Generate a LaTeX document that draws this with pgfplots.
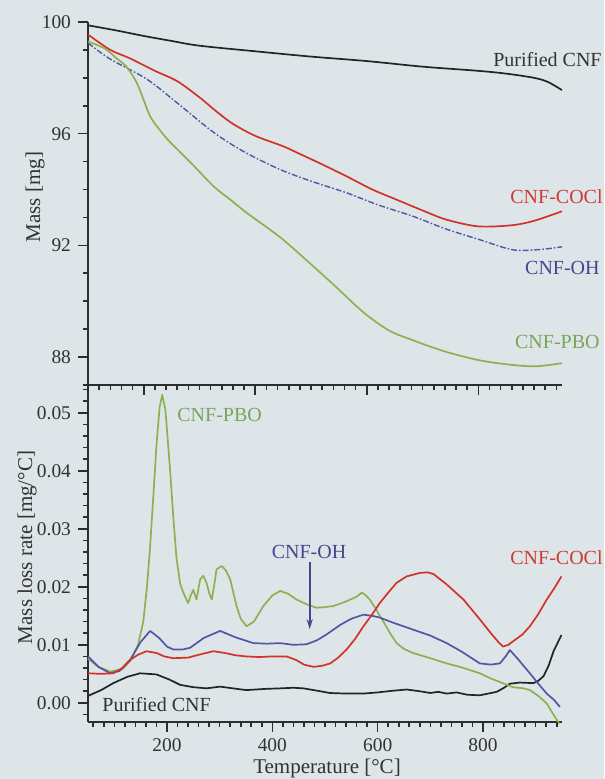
\documentclass[border=0pt]{standalone}
\usepackage{fontspec}
\setmainfont{Liberation Serif}
\usepackage{pgfplots}
\pgfplotsset{compat=1.18}
\usetikzlibrary{arrows.meta}
\definecolor{bg}{RGB}{221,229,233}
\definecolor{axc}{RGB}{45,45,45}
\definecolor{txt}{RGB}{50,50,50}
\definecolor{cblack}{RGB}{35,35,40}
\definecolor{cred}{RGB}{210,50,40}
\definecolor{cblue}{RGB}{85,85,165}
\definecolor{cgreen}{RGB}{140,178,80}
\definecolor{lred}{RGB}{205,60,50}
\definecolor{lblue}{RGB}{70,70,140}
\definecolor{lgreen}{RGB}{120,165,90}

\pgfplotsset{panel/.style={
  scale only axis, width=237pt,
  axis lines*=left,
  axis line style={-, line width=0.9pt, draw=axc},
  tick align=outside,
  major tick length=5pt, minor tick length=2.5pt,
  tick style={line width=0.8pt, draw=axc},
  /pgf/number format/assume math mode=true,
  tick label style={font=\fontsize{9.7}{11}\selectfont, color=txt},
  clip=false,
  every axis plot/.append style={line width=0.85pt, line join=round},
}}
\tikzset{tk/.style={draw=axc, line width=0.8pt}}

\begin{document}
\begin{tikzpicture}
\fill[bg] (0pt,0pt) rectangle (302pt,389.5pt);

% ---------------- top panel: mass ----------------
\begin{axis}[panel, at={(44pt,197pt)}, anchor=south west, height=181.5pt,
  xmin=100, xmax=950, ymin=87, ymax=100,
  xtick={200,400,600,800}, xticklabels={}, minor xtick={120,140,...,940},
  ytick={88,92,96,100}, minor ytick={87,89,90,91,93,94,95,97,98,99}]
\addplot[cblack, smooth] coordinates {
(100,99.88) (150,99.7) (200,99.5) (250,99.32) (300,99.15) (400,98.95) (500,98.76)
(600,98.6) (700,98.4) (800,98.25) (850,98.15) (900,98.0) (925,97.85) (950,97.56)};
\addplot[cred, smooth] coordinates {
(100,99.55) (140,99.0) (175,98.7) (220,98.25) (260,97.88) (300,97.3) (330,96.8)
(360,96.35) (400,95.92) (450,95.55) (475,95.32) (520,94.9) (563,94.48) (610,94.0)
(653,93.64) (700,93.25) (743,92.92) (800,92.68) (860,92.72) (900,92.88) (950,93.22)};
\addplot[cblue, smooth, dash pattern=on 3pt off 1pt on 0.8pt off 1pt, line width=0.7pt] coordinates {
(100,99.25) (139,98.68) (205,97.96) (260,97.1) (325,96.05) (380,95.35) (444,94.72)
(500,94.3) (564,93.88) (620,93.45) (683,93.04) (740,92.6) (803,92.2) (862,91.84)
(910,91.85) (950,91.95)};
\addplot[cgreen, smooth] coordinates {
(100,99.3) (130,99.05) (151,98.7) (169,98.4) (187,97.84) (200,97.2) (212,96.6)
(230,96.1) (247,95.7) (280,95.05) (325,94.12) (355,93.64) (385,93.16) (444,92.3)
(490,91.5) (540,90.6) (594,89.6) (640,88.95) (683,88.6) (740,88.2) (803,87.88)
(860,87.72) (904,87.67) (950,87.78)};
% tick marks
\pgfplotsinvokeforeach{120,140,...,940}{\draw[tk] (axis cs:#1,87) -- ++(0pt,-2.5pt);}
\pgfplotsinvokeforeach{200,400,600,800}{\draw[tk] (axis cs:#1,87) -- ++(0pt,-5pt);}
\pgfplotsinvokeforeach{87,89,90,91,93,94,95,97,98,99}{\draw[tk] (axis cs:100,#1) -- ++(-2.5pt,0pt);}
\pgfplotsinvokeforeach{88,92,96,100}{\draw[tk] (axis cs:100,#1) -- ++(-5pt,0pt);}
\end{axis}

% ---------------- bottom panel: mass loss rate ----------------
\begin{axis}[panel, at={(44pt,28.5pt)}, anchor=south west, height=168.5pt,
  xmin=50, xmax=950, ymin=-0.0033, ymax=0.0548,
  xtick={200,400,600,800}, minor xtick={60,80,...,940},
  ytick={0,0.01,0.02,0.03,0.04,0.05},
  minor ytick={-0.002,0.002,0.004,0.006,0.008,0.012,0.014,0.016,0.018,0.022,0.024,0.026,0.028,0.032,0.034,0.036,0.038,0.042,0.044,0.046,0.048,0.052,0.054},
  scaled y ticks=false,
  yticklabel style={/pgf/number format/.cd, fixed, fixed zerofill, precision=2}]
\addplot[cblack] coordinates {
(50,0.0012) (75,0.0022) (98,0.0034) (125,0.0045) (149,0.0051) (180,0.0049) (205,0.0040)
(225,0.0031) (250,0.0027) (275,0.0025) (301,0.0028) (325,0.0025) (351,0.0022) (385,0.0024)
(415,0.0025) (440,0.0026) (459,0.0025) (485,0.0021) (509,0.0017) (540,0.0016) (573,0.0016)
(600,0.0018) (630,0.0021) (655,0.0023) (680,0.0020) (700,0.0017) (715,0.0019) (731,0.0016)
(750,0.0018) (770,0.0014) (794,0.0013) (810,0.0016) (826,0.0019) (840,0.0026) (851,0.0033)
(870,0.0035) (896,0.0034) (905,0.0038) (915,0.0046) (925,0.0065) (934,0.0089) (949,0.0117)};
\addplot[cgreen] coordinates {
(50,0.0076) (70,0.0062) (92,0.0054) (115,0.0058) (130,0.0072) (145,0.0100) (155,0.0140)
(162,0.0200) (168,0.0270) (175,0.0370) (180,0.0444) (186,0.0510) (191,0.0531) (197,0.0505)
(206,0.0400) (212,0.0320) (218,0.0250) (225,0.0205) (231,0.0190) (240,0.0172) (245,0.0185)
(250,0.0195) (256,0.0178) (263,0.0213) (269,0.0219) (275,0.0207) (280,0.0190) (285,0.0178)
(290,0.0205) (294,0.0230) (304,0.0236) (312,0.0228) (320,0.0213) (326,0.0190) (332,0.0167)
(340,0.0145) (351,0.0132) (365,0.0140) (383,0.0167) (400,0.0185) (415,0.0193) (430,0.0188)
(446,0.0178) (465,0.0170) (484,0.0164) (500,0.0165) (516,0.0167) (532,0.0172) (548,0.0178)
(560,0.0183) (570,0.0190) (578,0.0185) (585,0.0178) (596,0.0163) (604,0.0150) (611,0.0140)
(625,0.0118) (636,0.0103) (650,0.0093) (667,0.0086) (700,0.0077) (731,0.0068) (760,0.0061)
(794,0.0051) (815,0.0042) (832,0.0036) (857,0.0027) (877,0.0025) (889,0.0022) (905,0.0012)
(921,-0.0001) (935,-0.0022) (945,-0.0036)};
\addplot[cblue] coordinates {
(50,0.0080) (70,0.0062) (92,0.0051) (110,0.0055) (130,0.0074) (150,0.0105) (168,0.0124)
(185,0.0112) (200,0.0097) (212,0.0092) (230,0.0092) (244,0.0095) (270,0.0112) (301,0.0124)
(330,0.0113) (364,0.0103) (390,0.0102) (415,0.0103) (440,0.0100) (465,0.0101) (485,0.0108)
(503,0.0118) (530,0.0135) (550,0.0145) (573,0.0152) (590,0.0150) (604,0.0147) (630,0.0138)
(668,0.0126) (700,0.0116) (731,0.0103) (760,0.0088) (794,0.0068) (815,0.0066) (832,0.0068)
(843,0.0080) (851,0.0091) (865,0.0077) (889,0.0051) (905,0.0033) (921,0.0016) (935,0.0005)
(946,-0.0007)};
\addplot[cred] coordinates {
(50,0.0051) (75,0.0050) (98,0.0051) (115,0.0060) (130,0.0074) (145,0.0083) (161,0.0089)
(180,0.0086) (195,0.0080) (212,0.0077) (240,0.0078) (265,0.0084) (288,0.0089) (310,0.0086)
(330,0.0082) (351,0.0080) (375,0.0079) (400,0.0080) (427,0.0080) (445,0.0074) (460,0.0066)
(478,0.0062) (495,0.0064) (510,0.0068) (525,0.0078) (541,0.0092) (557,0.0110) (573,0.0132)
(590,0.0153) (604,0.0172) (620,0.0190) (636,0.0207) (655,0.0218) (680,0.0224) (695,0.0225)
(706,0.0222) (730,0.0205) (763,0.0178) (794,0.0144) (815,0.0120) (830,0.0104) (838,0.0097)
(848,0.0100) (857,0.0106) (875,0.0118) (889,0.0132) (905,0.0153) (921,0.0178) (935,0.0197)
(949,0.0218)};
\draw[-{Stealth[length=5pt,width=3pt]}, lblue, line width=0.8pt] (axis cs:471,0.0243) -- (axis cs:471,0.0127);
% tick marks
\pgfplotsinvokeforeach{60,80,...,940}{\draw[tk] (axis cs:#1,-0.0033) -- ++(0pt,-2.5pt);}
\pgfplotsinvokeforeach{200,400,600,800}{\draw[tk] (axis cs:#1,-0.0033) -- ++(0pt,-5pt);}
\pgfplotsinvokeforeach{-0.002,0.002,0.004,0.006,0.008,0.012,0.014,0.016,0.018,0.022,0.024,0.026,0.028,0.032,0.034,0.036,0.038,0.042,0.044,0.046,0.048,0.052,0.054}{\draw[tk] (axis cs:50,#1) -- ++(-2.5pt,0pt);}
\pgfplotsinvokeforeach{0,0.01,0.02,0.03,0.04,0.05}{\draw[tk] (axis cs:50,#1) -- ++(-5pt,0pt);}
\end{axis}

% ---------------- labels ----------------
\begin{scope}[every node/.style={inner sep=0pt, font=\fontsize{10}{12}\selectfont}]
\node[anchor=east, text=txt] at (301pt,359.5pt) {Purified CNF};
\node[anchor=east, text=lred] at (301.5pt,291pt) {CNF-COCl};
\node[anchor=east, text=lblue] at (300pt,255.5pt) {CNF-OH};
\node[anchor=east, text=lgreen] at (300pt,218.5pt) {CNF-PBO};
\node[anchor=west, text=lgreen] at (88.5pt,182pt) {CNF-PBO};
\node[text=lblue] at (154.5pt,113.5pt) {CNF-OH};
\node[anchor=east, text=lred] at (301.5pt,110.5pt) {CNF-COCl};
\node[anchor=west, text=txt] at (51pt,37pt) {Purified CNF};
\end{scope}
\begin{scope}[every node/.style={inner sep=0pt, font=\fontsize{10.5}{12}\selectfont, text=txt}]
\node[rotate=90] at (17.5pt,291pt) {Mass [mg]};
\node[rotate=90] at (13.5pt,115.75pt) {Mass loss rate [mg/°C]};
\node at (163.5pt,5.5pt) {Temperature [°C]};
\end{scope}
\pgfresetboundingbox
\path[use as bounding box] (0pt,0pt) rectangle (302pt,389.5pt);
\end{tikzpicture}
\end{document}
